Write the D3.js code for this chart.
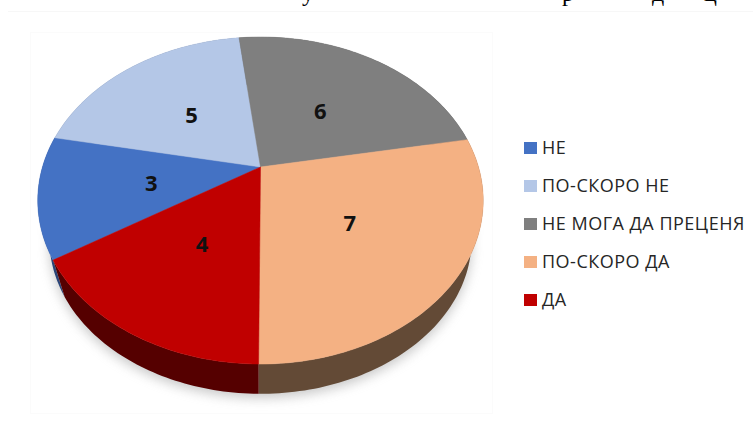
<!DOCTYPE html>
<html>
<head>
<meta charset="utf-8">
<script src="https://cdn.jsdelivr.net/npm/d3@7"></script>
<style>
  html, body { margin: 0; padding: 0; background: #fff; }
  svg { display: block; }
  .label { font-family: "Open Sans", sans-serif; font-weight: 700; font-size: 22px; fill: #111; text-anchor: middle; }
  .legend { font-family: "Open Sans", sans-serif; font-size: 18px; letter-spacing: 0.5px; fill: #262626; }
  .heading { font-family: "Liberation Serif", serif; font-size: 24px; fill: #000; }
</style>
</head>
<body>
<svg id="chart" width="753" height="429"></svg>
<script>
var categories = ["НЕ", "ПО-СКОРО НЕ", "НЕ МОГА ДА ПРЕЦЕНЯ", "ПО-СКОРО ДА", "ДА"];
var values = [3, 5, 6, 7, 4];
var topColors = ["#4472c4", "#b4c7e7", "#7f7f7f", "#f4b183", "#c00000"];
var wallColors = ["#2a4578", "#6d7a8d", "#4d4d4d", "#634a36", "#550000"];
// bottoms of the heading line that is cut off by the top of the picture
var headingGlyphs = ["у", "р", "д", "ц"];
var headingX = [302, 562, 652, 704];

var width = 753, height = 429;
var svg = d3.select("#chart");

// the pie is tilted, so a circle goes through a small perspective projection
var cx = 260.5, cy = 167, radius = 218;
var lean = -0.205, ySpan = 122.4;
var wallScale = 0.95, wallDrop = 42;

function project(angle, f, drop) {
    var u = Math.sin(angle) * f;
    var v = -Math.cos(angle) * f;
    var w = 1 + lean * v;
    return [cx + radius * u / w, (cy + ySpan * v) / w + drop];
}

function sampleArc(a0, a1, f, drop) {
    var n = Math.max(2, Math.ceil(Math.abs(a1 - a0) / 0.02));
    return d3.range(n + 1).map(function (i) {
        return project(a0 + (a1 - a0) * i / n, f, drop);
    });
}

var line = d3.line();

var startAngle = 238 * Math.PI / 180;
var pie = d3.pie().sort(null).startAngle(startAngle).endAngle(startAngle + 2 * Math.PI);
var slices = pie(values);

var defs = svg.append("defs");
defs.append("filter").attr("id", "soft")
    .attr("x", "-20%").attr("y", "-20%").attr("width", "140%").attr("height", "140%")
    .append("feGaussianBlur").attr("stdDeviation", 6);

// heading leftovers and the faint frames of the pasted image
svg.append("g").selectAll("text")
    .data(headingGlyphs)
    .enter()
    .append("text")
    .attr("class", "heading")
    .attr("x", function (d, i) { return headingX[i]; })
    .attr("y", 1)
    .text(function (d) { return d; });

svg.append("line")
    .attr("x1", 8).attr("x2", width)
    .attr("y1", 11.5).attr("y2", 11.5)
    .attr("stroke", "#f7f7f7");

svg.append("rect")
    .attr("x", 30.5).attr("y", 32.5)
    .attr("width", 462).attr("height", 381)
    .attr("fill", "none")
    .attr("stroke", "#fbfbfb");

// shadow under the pie
var fullRing = sampleArc(0, 2 * Math.PI, wallScale, wallDrop + 4);
svg.append("path")
    .attr("d", line(fullRing) + "Z")
    .attr("fill", "#9a9a9a")
    .attr("opacity", 0.55)
    .attr("filter", "url(#soft)");

// walls first, the top face covers whatever should not show
svg.append("g").selectAll("path")
    .data(slices)
    .enter()
    .append("path")
    .attr("d", function (d) {
        var upper = sampleArc(d.startAngle, d.endAngle, 1, 0);
        var lower = sampleArc(d.endAngle, d.startAngle, wallScale, wallDrop);
        return line(upper.concat(lower)) + "Z";
    })
    .attr("fill", function (d) { return wallColors[d.index]; });

svg.append("g").selectAll("path")
    .data(slices)
    .enter()
    .append("path")
    .attr("d", function (d) {
        var rim = sampleArc(d.startAngle, d.endAngle, 1, 0);
        return line([project(0, 0, 0)].concat(rim)) + "Z";
    })
    .attr("fill", function (d) { return topColors[d.index]; })
    .attr("stroke", function (d) { return topColors[d.index]; })
    .attr("stroke-width", 0.5);

svg.append("g").selectAll("text")
    .data(slices)
    .enter()
    .append("text")
    .attr("class", "label")
    .attr("x", function (d) { return project((d.startAngle + d.endAngle) / 2, 0.5, 0)[0]; })
    .attr("y", function (d) { return project((d.startAngle + d.endAngle) / 2, 0.5, 2)[1]; })
    .attr("dy", "0.36em")
    .text(function (d) { return d.data; });

// legend
var legendY = d3.scalePoint().domain(categories).range([148, 300]);

var legend = svg.append("g").selectAll("g")
    .data(categories)
    .enter()
    .append("g")
    .attr("transform", function (d) { return "translate(524," + legendY(d) + ")"; });

legend.append("rect")
    .attr("x", 0).attr("y", -6)
    .attr("width", 13).attr("height", 12)
    .attr("fill", function (d, i) { return topColors[i]; });

legend.append("text")
    .attr("class", "legend")
    .attr("x", 18)
    .attr("dy", "0.36em")
    .text(function (d) { return d; });
</script>
</body>
</html>
